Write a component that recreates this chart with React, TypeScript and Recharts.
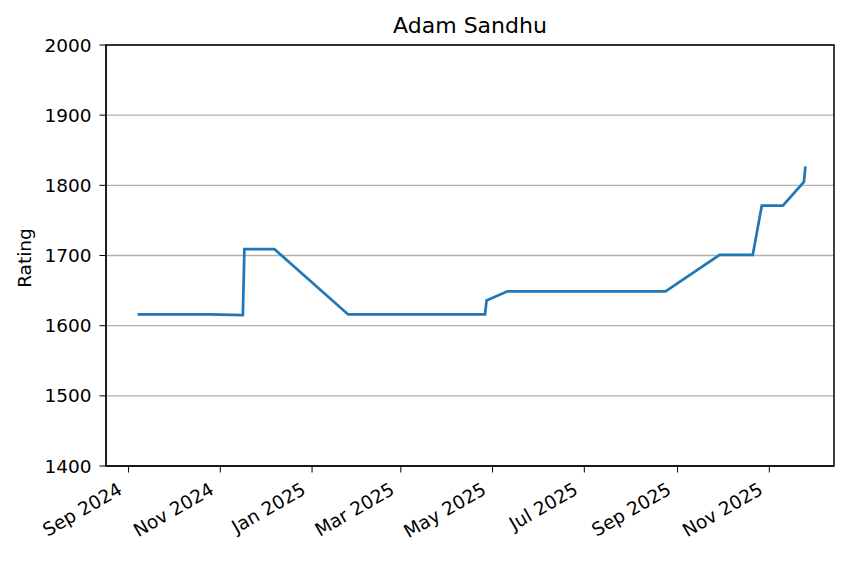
import React from 'react';
import { LineChart, Line, XAxis, YAxis, CartesianGrid, ReferenceArea } from 'recharts';

// rating history
const dates = [
  '2024-09-07', '2024-10-25', '2024-11-16', '2024-11-17', '2024-12-07',
  '2025-01-25', '2025-04-26', '2025-04-27', '2025-05-11', '2025-08-24',
  '2025-09-29', '2025-10-21', '2025-10-27', '2025-11-10', '2025-11-24',
  '2025-11-25',
];
const ratings = [
  1616, 1616, 1615, 1709, 1709,
  1616, 1616, 1636, 1649, 1649,
  1701, 1701, 1771, 1771, 1805,
  1827,
];

const tickMonths = [
  '2024-09-01', '2024-11-01', '2025-01-01', '2025-03-01',
  '2025-05-01', '2025-07-01', '2025-09-01', '2025-11-01',
];
const xDomainDates = ['2024-08-17', '2025-12-14'];
const yTicks = [1400, 1500, 1600, 1700, 1800, 1900, 2000];
const monthNames = ['Jan', 'Feb', 'Mar', 'Apr', 'May', 'Jun', 'Jul', 'Aug', 'Sep', 'Oct', 'Nov', 'Dec'];

const toMs = (s: string) => {
  const [y, m, d] = s.split('-').map(Number);
  return Date.UTC(y, m - 1, d);
};

const data = dates.map((d, i) => ({ t: toMs(d), rating: ratings[i] }));
const xTicks = tickMonths.map(toMs);
const xDomain = xDomainDates.map(toMs);

const FONT = 'DejaVu Sans, sans-serif';
const LABEL_SIZE = 18.5;

const formatMonth = (v: number) => {
  const dt = new Date(v);
  return `${monthNames[dt.getUTCMonth()]} ${dt.getUTCFullYear()}`;
};

// matplotlib-style rotated date label (30deg, right aligned)
const DateTick = (props: any) => {
  const { x, payload } = props;
  const tx = x - 5;
  const ty = 493;
  return (
    <text
      x={tx}
      y={ty}
      textAnchor="end"
      fontSize={LABEL_SIZE}
      fontFamily={FONT}
      fill="#000"
      transform={`rotate(-30, ${tx}, ${ty})`}
    >
      {formatMonth(payload.value)}
    </text>
  );
};

const App = () => {
  return (
    <div style={{ position: 'absolute', left: 0, top: 0, width: 849, height: 561, background: '#fff' }}>
      <LineChart
        width={849}
        height={561}
        data={data}
        margin={{ top: 45, right: 15, left: 0, bottom: 0 }}
      >
        <text x={470} y={33} textAnchor="middle" fontSize={22} fontFamily={FONT} fill="#000">
          Adam Sandhu
        </text>
        <text
          x={31}
          y={258}
          textAnchor="middle"
          fontSize={LABEL_SIZE}
          fontFamily={FONT}
          fill="#000"
          transform="rotate(-90, 31, 258)"
        >
          Rating
        </text>
        <CartesianGrid vertical={false} stroke="#b0b0b0" strokeWidth={1.4} />
        <XAxis
          dataKey="t"
          type="number"
          scale="time"
          domain={xDomain}
          ticks={xTicks}
          tick={<DateTick />}
          height={95}
          stroke="#000"
          tickSize={6.5}
          interval={0}
          allowDataOverflow
        />
        <YAxis
          domain={[1400, 2000]}
          ticks={yTicks}
          width={106}
          stroke="#000"
          tickSize={6.5}
          tickMargin={8}
          tick={{ fontSize: LABEL_SIZE, fontFamily: FONT, fill: '#000' }}
          interval={0}
        />
        <Line
          type="linear"
          dataKey="rating"
          stroke="#1f77b4"
          strokeWidth={2.7}
          dot={false}
          isAnimationActive={false}
        />
        <ReferenceArea
          x1={xDomain[0]}
          x2={xDomain[1]}
          y1={1400}
          y2={2000}
          fill="none"
          stroke="#000"
          strokeWidth={1.5}
        />
      </LineChart>
    </div>
  );
};

export default App;
